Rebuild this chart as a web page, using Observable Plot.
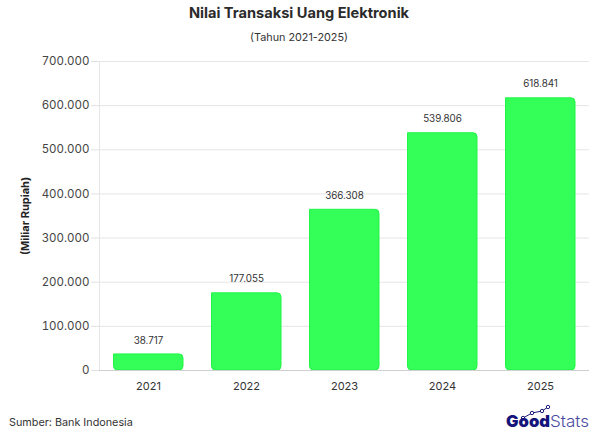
<!DOCTYPE html>
<html><head><meta charset="utf-8">
<script src="https://cdn.jsdelivr.net/npm/d3@7"></script>
<script src="https://cdn.jsdelivr.net/npm/@observablehq/plot@0.6"></script>
<style>
html,body{margin:0;padding:0;background:#fff;}
body{width:598px;height:431px;position:relative;overflow:hidden;font-family:Inter,"Open Sans",sans-serif;color:#333;}
#title{position:absolute;left:0;width:598px;top:4px;text-align:center;font-size:14.6px;font-weight:700;color:#2b2b2b;line-height:18px;}
#sub{position:absolute;left:0;width:598px;top:29.5px;text-align:center;font-size:10.8px;color:#333;line-height:15px;}
#chart{position:absolute;left:0;top:50px;}
#source{position:absolute;left:9px;top:415px;font-size:10.8px;color:#333;line-height:15px;}
#logo{position:absolute;left:506px;top:403px;width:88px;height:28px;}
</style></head><body>
<div id="title">Nilai Transaksi Uang Elektronik</div>
<div id="sub">(Tahun 2021-2025)</div>
<div id="chart"></div>
<div id="source">Sumber: Bank Indonesia</div>
<svg id="logo" viewBox="0 0 88 28"><polyline points="17,15 26,10 36,8 42,4" fill="none" stroke="#1d1d7a" stroke-width="1"/>
<g fill="#fff" stroke="#1d1d7a" stroke-width="1"><circle cx="17" cy="15" r="1.7"/><circle cx="26" cy="10" r="1.7"/><circle cx="36" cy="8" r="1.7"/><circle cx="42" cy="4" r="1.7"/></g>
<text x="0" y="24" font-family="Inter" font-size="16.5" font-weight="900" fill="#14147a" textLength="44" lengthAdjust="spacingAndGlyphs">Good</text>
<text x="44" y="24" font-family="Inter" font-size="16.5" font-weight="300" fill="#4a4aa0" textLength="39" lengthAdjust="spacingAndGlyphs">Stats</text></svg>
<script>
const years = ["2021","2022","2023","2024","2025"];
const values = [38717,177055,366308,539806,618841];
const valueLabels = ["38.717","177.055","366.308","539.806","618.841"];
const yTicks = [0,100000,200000,300000,400000,500000,600000,700000];
const yTickLabels = ["0","100.000","200.000","300.000","400.000","500.000","600.000","700.000"];
const rows = years.map((year,i)=>({year,value:values[i],label:valueLabels[i]}));
const plot = Plot.plot({
  width:598,height:340,
  marginLeft:99,marginRight:9,marginTop:11,marginBottom:20,
  style:{fontFamily:"Inter, sans-serif",background:"transparent",overflow:"visible"},
  x:{domain:years,paddingInner:0.286,paddingOuter:0.143,align:0.5,label:null},
  y:{domain:[0,700000],label:null},
  marks:[
    Plot.gridY(yTicks,{stroke:"#e6e6e6",strokeOpacity:1,strokeWidth:1}),
    Plot.frame({anchor:"left",stroke:"#e6e6e6"}),
    Plot.axisY(yTicks,{tickSize:8,stroke:"#e0e0e0",tickPadding:2,fontSize:11.5,fill:"#444",
      tickFormat:d=>yTickLabels[yTicks.indexOf(d)],label:null}),
    Plot.axisX({tickSize:0,tickPadding:12,fontSize:11,fill:"#333",label:null}),
    Plot.barY(rows,{x:"year",y:"value",fill:"#33ff58",stroke:"#22f548",strokeWidth:1,ry2:4,rx2:4,insetTop:1,insetLeft:0.5}),
    Plot.ruleY([0],{stroke:"#cfcfcf"}),
    Plot.text(rows,{x:"year",y:"value",text:"label",dy:-13,fontSize:9.8,fill:"#333"}),
    Plot.text(["(Miliar Rupiah)"],{frameAnchor:"left",textAnchor:"middle",dx:-74,rotate:-90,fontSize:11,fontWeight:700,fill:"#222"})
  ]
});
document.getElementById("chart").appendChild(plot);
</script>
</body></html>
